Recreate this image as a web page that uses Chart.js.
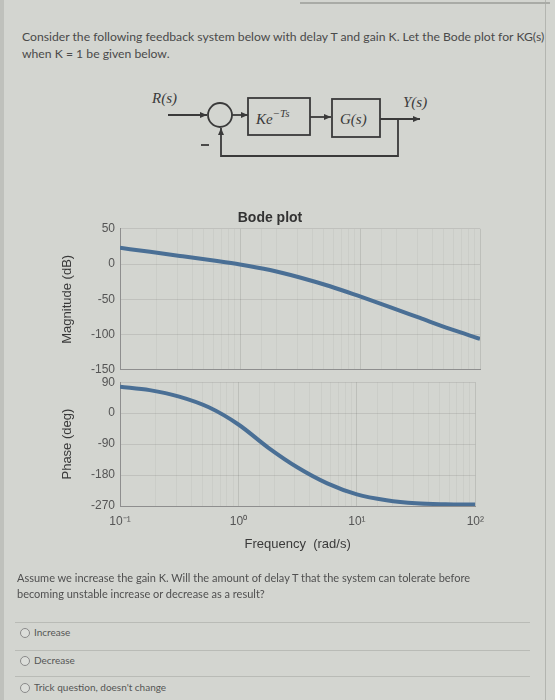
<!DOCTYPE html>
<html>
<head>
<meta charset="utf-8">
<script src="https://cdn.jsdelivr.net/npm/chart.js@4.4.0/dist/chart.umd.min.js"></script>
<style>
  html, body { margin:0; padding:0; }
  body { width:555px; height:700px; background:#d3d5d0; position:relative; overflow:hidden; font-family: Lato, "Open Sans", sans-serif; color:#4a4a4a; }
  .abs { position:absolute; }
  .txt { font-size:12.2px; white-space:nowrap; }
  .q { font-size:11px; white-space:nowrap; color:#505050; }
  .opt { font-size:10px; white-space:nowrap; color:#555; }
  .radio { position:absolute; width:8px; height:8px; border:1px solid #8a8a8a; border-radius:50%; background:#dcdeda; }
  .sep { position:absolute; height:1px; background:#b9bbb6; }
</style>
</head>
<body>
<div class="abs" style="left:0;top:0;width:4px;height:700px;background:#bfc1bc"></div>
<div class="abs" style="left:545px;top:0;width:1px;height:700px;background:#b3b5b0"></div>
<div class="abs" style="left:300px;top:2px;width:250px;height:2px;background:#a9aba6"></div>

<div class="abs txt" style="left:22px;top:29px">Consider the following feedback system below with delay T and gain K. Let the Bode plot for KG(s)</div>
<div class="abs txt" style="left:22px;top:46px">when K = 1 be given below.</div>

<svg class="abs" style="left:0;top:0" width="555" height="200">
  <defs>
    <marker id="ah" markerWidth="8" markerHeight="8" refX="7" refY="4" orient="auto" markerUnits="userSpaceOnUse">
      <path d="M0,1 L7,4 L0,7 z" fill="#3a3a3a"/>
    </marker>
  </defs>
  <g stroke="#3a3a3a" stroke-width="1.8" fill="none">
    <line x1="168" y1="115" x2="207" y2="115" marker-end="url(#ah)"/>
    <circle cx="220" cy="115" r="12"/>
    <line x1="232" y1="115" x2="248" y2="115" marker-end="url(#ah)"/>
    <rect x="248" y="98" width="62" height="37"/>
    <line x1="310" y1="117" x2="331" y2="117" marker-end="url(#ah)"/>
    <rect x="332" y="99" width="48" height="38"/>
    <line x1="380" y1="119" x2="420" y2="119" marker-end="url(#ah)"/>
    <polyline points="398,119 398,156 221,156 221,128" marker-end="url(#ah)"/>
    <line x1="201" y1="145" x2="209" y2="145"/>
  </g>
  <g font-family="'Liberation Serif', 'DejaVu Serif', serif" font-style="italic" fill="#3a3a3a">
    <text x="152" y="103" font-size="15">R(s)</text>
    <text x="403" y="107" font-size="15">Y(s)</text>
    <text x="256" y="124" font-size="15">Ke<tspan dy="-7" font-size="11">−Ts</tspan></text>
    <text x="340" y="124" font-size="15">G(s)</text>
  </g>
</svg>

<div class="abs" style="left:0;top:204px;width:492px;height:178px"><canvas id="mag"></canvas></div>
<div class="abs" style="left:0;top:370px;width:492px;height:182px"><canvas id="pha"></canvas></div>

<div class="abs q" style="left:17px;top:571px">Assume we increase the gain K. Will the amount of delay T that the system can tolerate before</div>
<div class="abs q" style="left:17px;top:587px">becoming unstable increase or decrease as a result?</div>

<div class="sep" style="left:15px;top:622px;width:515px"></div>
<div class="sep" style="left:15px;top:650px;width:515px"></div>
<div class="sep" style="left:15px;top:676px;width:515px"></div>

<div class="radio" style="left:20px;top:628px"></div>
<div class="abs opt" style="left:34px;top:626px">Increase</div>
<div class="radio" style="left:20px;top:656px"></div>
<div class="abs opt" style="left:34px;top:654px">Decrease</div>
<div class="radio" style="left:20px;top:683px"></div>
<div class="abs opt" style="left:34px;top:681px">Trick question, doesn't change</div>

<script>
// ---- data ----
const freqs    = [0.1, 0.178, 0.316, 0.562, 1, 1.78, 3.16, 5.62, 10, 17.8, 31.6, 56.2, 100];
const magDb    = [23, 17.3, 11.5, 5.6, -0.5, -8.4, -19, -31.5, -46, -61, -76.5, -92, -106];
const phaseDeg = [77, 67, 48, 17, -33, -100, -158, -204, -236, -253, -262, -265, -266];
const magTicks   = [50, 0, -50, -100, -150];
const phaseTicks = [90, 0, -90, -180, -270];
const decadeLabels = {0.1: '10⁻¹', 1: '10⁰', 10: '10¹', 100: '10²'};

const lineColor = '#4a6f95';
const tickFont = {family: "'Liberation Sans', Arial, sans-serif", size: 12};
const titleFont = {family: "'Liberation Sans', Arial, sans-serif", size: 13};

function toXY(xs, ys){ return xs.map((x,i)=>({x:x, y:ys[i]})); }
function isDecade(v){ return decadeLabels[+(+v).toPrecision(3)] !== undefined; }

function xScale(showLabels){
  return {
    type: 'logarithmic', min: 0.1, max: 100,
    grid: { color: (c) => (c.tick && isDecade(c.tick.value)) ? 'rgba(0,0,0,0.10)' : 'rgba(0,0,0,0.035)', drawTicks: false },
    border: { color: '#8e8e8e' },
    ticks: {
      display: showLabels, autoSkip: false, maxRotation: 0, padding: 8,
      color: '#555', font: tickFont,
      callback: (v) => isDecade(v) ? decadeLabels[+(+v).toPrecision(3)] : ''
    },
    title: showLabels ? { display: true, text: 'Frequency  (rad/s)', color: '#3a3a3a', font: titleFont, padding: {top: 0, bottom: 0} } : { display:false }
  };
}
function yScale(min, max, vals, title){
  return {
    min: min, max: max,
    afterFit: (s) => { s.width = 60; },
    afterBuildTicks: (s) => { s.ticks = vals.map(v => ({value: v})); },
    grid: { color: 'rgba(0,0,0,0.09)', drawTicks: false },
    border: { color: '#8e8e8e' },
    ticks: { color: '#555', font: tickFont, padding: 5 },
    title: { display: true, text: title, color: '#3a3a3a', font: titleFont, padding: {top: 0, bottom: 4} }
  };
}
const common = {
  responsive: true, maintainAspectRatio: false, animation: false,
  elements: { point: { radius: 0 }, line: { borderWidth: 4, cubicInterpolationMode: 'monotone' } },
  plugins: { legend: { display: false }, tooltip: { enabled: false } }
};

new Chart(document.getElementById('mag'), {
  type: 'line',
  data: { datasets: [{ data: toXY(freqs, magDb), borderColor: lineColor, fill: false }] },
  options: Object.assign({}, common, {
    layout: { padding: { left: 60, right: 12, top: 0, bottom: 8 } },
    plugins: Object.assign({}, common.plugins, {
      title: { display: true, text: 'Bode plot', color: '#333', font: {family: "'Liberation Sans', Arial, sans-serif", size: 14, weight: 'bold'}, padding: {top: 6, bottom: 2} }
    }),
    scales: { x: xScale(false), y: yScale(-150, 50, magTicks, 'Magnitude (dB)') }
  })
});

new Chart(document.getElementById('pha'), {
  type: 'line',
  data: { datasets: [{ data: toXY(freqs, phaseDeg), borderColor: lineColor, fill: false }] },
  options: Object.assign({}, common, {
    layout: { padding: { left: 60, right: 12, top: 8, bottom: 0 } },
    scales: { x: xScale(true), y: yScale(-270, 90, phaseTicks, 'Phase (deg)') }
  })
});
</script>
</body>
</html>
